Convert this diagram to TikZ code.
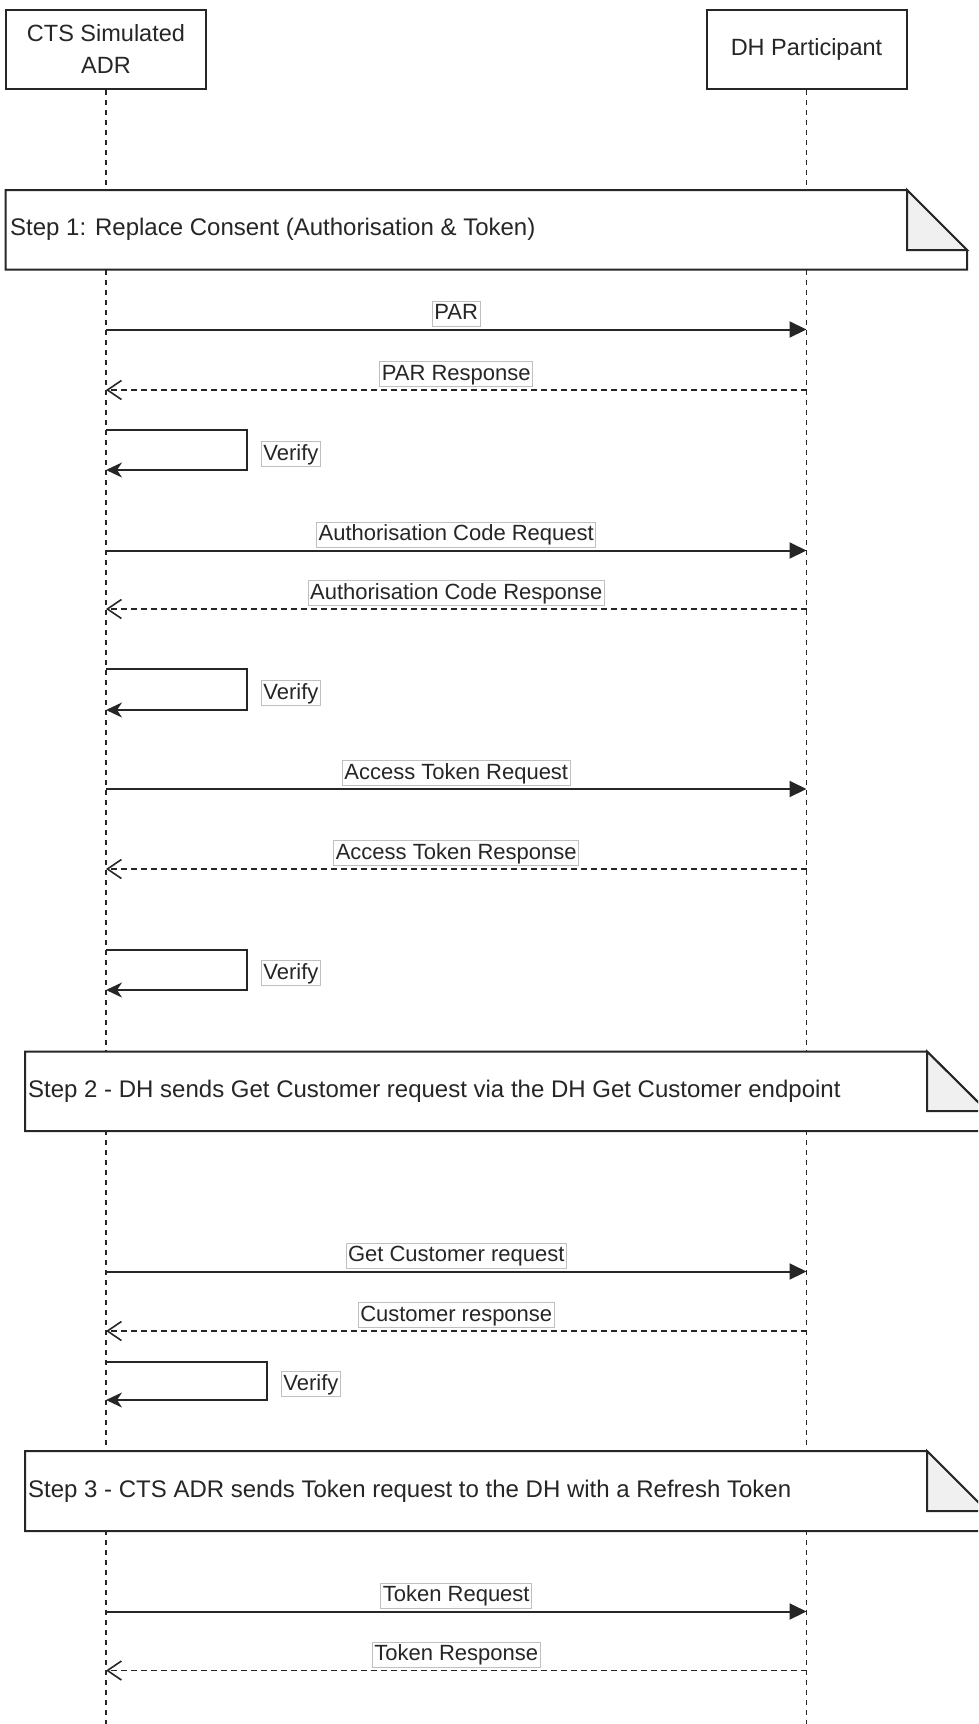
\documentclass[tikz,border=0pt]{standalone}
\usepackage{fontspec}
\setmainfont{Liberation Sans}
\usetikzlibrary{arrows.meta}
\begin{document}
\begin{tikzpicture}[x=1pt,y=-1pt,
  actor/.style={draw=black!85, line width=2pt, fill=white, minimum width=200pt, minimum height=79.5pt,
    align=center, inner sep=0pt, font=\fontsize{23.5}{32}\selectfont, text=black!85},
  life/.style={line width=1.5pt, draw=black!85, dash pattern=on 5pt off 5pt},
  msg/.style={line width=2pt, draw=black!85, -{Triangle[length=17pt,width=16pt]}},
  ret/.style={line width=1.8pt, draw=black!85, dash pattern=on 6pt off 4pt,
    -{Straight Barb[length=14pt,width=19pt,line width=1.6pt]}},
  selfl/.style={line width=2pt, draw=black!85, -{Stealth[length=16pt,width=15pt,inset=5pt]}},
  lab/.style={solid, draw=black!25, line width=0.8pt, fill=white, inner xsep=2pt, inner ysep=1.5pt,
    text height=17pt, text depth=5pt, font=\fontsize{22}{27}\selectfont, text=black!85},
  note/.style={draw=black!85, line width=2pt, fill=white, line join=miter},
  fold/.style={draw=black!85, line width=2pt, fill=black!6, line join=miter},
  steptext/.style={anchor=west, inner sep=0pt, font=\fontsize{24}{28}\selectfont, text=black!85}
]
\useasboundingbox (0,0) rectangle (978,1724);
\clip (0,0) rectangle (978,1724);

% participants
\node[actor] (adr) at (106,49.25) {CTS Simulated\\ADR};
\node[actor] (dh) at (806.5,49.25) {DH Participant};
\coordinate (adrend) at (106,1730);
\coordinate (dhend) at (806.5,1730);
\draw[life] (adr.south) -- (adrend);
\draw[life] (dh.south) -- (dhend);

% Step 1 note
\filldraw[note] (5.5,190) -- (907,190) -- (967,250) -- (967,269.5) -- (5.5,269.5) -- cycle;
\filldraw[fold] (907,190) -- (967,250) -- (907,250) -- cycle;
\node[steptext] (s1) at (10,229.75) {Step 1: Replace Consent (Authorisation \& Token)};

% PAR
\coordinate (a1) at (106,329.5); \coordinate (d1) at (806.5,329.5);
\draw[msg] (a1) -- node[lab, midway, above=3pt] (l1) {PAR} (d1);
\coordinate (a2) at (106,390); \coordinate (d2) at (806.5,390);
\draw[ret] (d2) -- node[lab, midway, above=3pt] (l2) {PAR Response} (a2);

% Verify 1
\coordinate (v1a) at (106,430); \coordinate (v1b) at (106,470);
\draw[selfl] (v1a) -- ++(141,0) |- (v1b);
\node[lab, anchor=west] (lv1) at (261,454) {Verify};

% Authorisation code
\coordinate (a3) at (106,550.5); \coordinate (d3) at (806.5,550.5);
\draw[msg] (a3) -- node[lab, midway, above=3pt] (l3) {Authorisation Code Request} (d3);
\coordinate (a4) at (106,609); \coordinate (d4) at (806.5,609);
\draw[ret] (d4) -- node[lab, midway, above=3pt] (l4) {Authorisation Code Response} (a4);

% Verify 2
\coordinate (v2a) at (106,669); \coordinate (v2b) at (106,710);
\draw[selfl] (v2a) -- ++(141,0) |- (v2b);
\node[lab, anchor=west] (lv2) at (261,693) {Verify};

% Access token
\coordinate (a5) at (106,789); \coordinate (d5) at (806.5,789);
\draw[msg] (a5) -- node[lab, midway, above=3pt] (l5) {Access Token Request} (d5);
\coordinate (a6) at (106,869); \coordinate (d6) at (806.5,869);
\draw[ret] (d6) -- node[lab, midway, above=3pt] (l6) {Access Token Response} (a6);

% Verify 3
\coordinate (v3a) at (106,949.5); \coordinate (v3b) at (106,990);
\draw[selfl] (v3a) -- ++(141,0) |- (v3b);
\node[lab, anchor=west] (lv3) at (261,973) {Verify};

% Step 2 note
\filldraw[note] (25,1051.5) -- (927,1051.5) -- (987,1111) -- (987,1131) -- (25,1131) -- cycle;
\filldraw[fold] (927,1051.5) -- (987,1111) -- (927,1111) -- cycle;
\node[steptext] (s2) at (28,1091) {Step 2 - DH sends Get Customer request via the DH Get Customer endpoint};

% Get customer
\coordinate (a7) at (106,1271.5); \coordinate (d7) at (806.5,1271.5);
\draw[msg] (a7) -- node[lab, midway, above=3pt] (l7) {Get Customer request} (d7);
\coordinate (a8) at (106,1331); \coordinate (d8) at (806.5,1331);
\draw[ret] (d8) -- node[lab, midway, above=3pt] (l8) {Customer response} (a8);

% Verify 4
\coordinate (v4a) at (106,1361.5); \coordinate (v4b) at (106,1400);
\draw[selfl] (v4a) -- ++(160.5,0) |- (v4b);
\node[lab, anchor=west] (lv4) at (281,1384) {Verify};

% Step 3 note
\filldraw[note] (25,1451) -- (927,1451) -- (987,1511) -- (987,1531) -- (25,1531) -- cycle;
\filldraw[fold] (927,1451) -- (987,1511) -- (927,1511) -- cycle;
\node[steptext] (s3) at (28,1491) {Step 3 - CTS ADR sends Token request to the DH with a Refresh Token};

% Token
\coordinate (a9) at (106,1611.5); \coordinate (d9) at (806.5,1611.5);
\draw[msg] (a9) -- node[lab, midway, above=3pt] (l9) {Token Request} (d9);
\coordinate (a10) at (106,1670.5); \coordinate (d10) at (806.5,1670.5);
\draw[ret] (d10) -- node[lab, midway, above=3pt] (l10) {Token Response} (a10);
\end{tikzpicture}
\end{document}
